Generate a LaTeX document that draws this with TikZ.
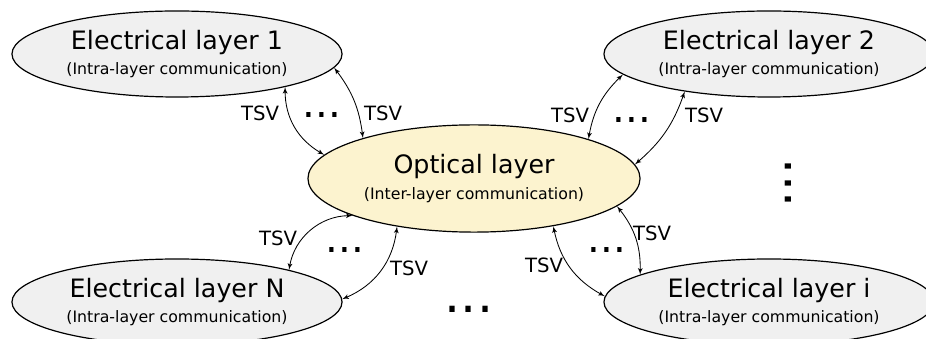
\documentclass[tikz,border=0pt]{standalone}
\usepackage{fontspec}
\setmainfont{DejaVu Sans}
\usepackage{tikz}
\usetikzlibrary{shapes,arrows}
\definecolor{layerGR}{RGB}{240,240,240}
\definecolor{layerYE}{RGB}{252,243,207}
\tikzstyle{layerEL} = [ellipse, draw, fill=layerGR, line width=0.85pt, inner sep=0pt, align=center, minimum width=8.25cm, minimum height=2.15cm]
\tikzstyle{layerOP} = [layerEL, fill=layerYE, minimum width=8.3cm, minimum height=2.68cm]
\tikzstyle{tsvlabel} = [font=\fontsize{14}{16}\selectfont, inner sep=0pt]
\tikzstyle{dotsSM} = [font=\fontsize{28.6}{30}\selectfont, inner sep=0pt]
\tikzstyle{dotsBG} = [font=\fontsize{36}{38}\selectfont, inner sep=0pt]
\tikzstyle{line} = [draw, line width=0.6pt, latex'-latex']
\newcommand{\layertext}[2]{{\fontsize{18}{20}\selectfont #1}\\[5pt]{\fontsize{11.2}{13}\selectfont #2}}

\begin{document}
\begin{tikzpicture}[x=0.025cm, y=-0.025cm]
  \useasboundingbox (0,0) rectangle (926,339);

    % nodes
    \node [layerEL] (elec1) at (177,54) {\layertext{Electrical layer 1}{(Intra-layer communication)}};
    \node [layerEL] (elec2) at (769,54) {\layertext{Electrical layer 2}{(Intra-layer communication)}};
    \node [layerOP] (optic) at (474,178.5) {\layertext{Optical layer}{(Inter-layer communication)}};
    \node [layerEL] (elecN) at (177,302) {\layertext{Electrical layer N}{(Intra-layer communication)}};
    \node [layerEL] (eleci) at (769,302) {\layertext{Electrical layer i}{(Intra-layer communication)}};

    % labels
    \node [tsvlabel] (tsv1a) at (260,113) {TSV};
    \node [tsvlabel] (tsv1b) at (383,113) {TSV};
    \node [tsvlabel] (tsv2a) at (570,115) {TSV};
    \node [tsvlabel] (tsv2b) at (704,115) {TSV};
    \node [tsvlabel] (tsvNa) at (278,238) {TSV};
    \node [tsvlabel] (tsvNb) at (409,268) {TSV};
    \node [tsvlabel] (tsvia) at (544,265) {TSV};
    \node [tsvlabel] (tsvib) at (652,233) {TSV};

    % dots
    \node [dotsSM] (dots1) at (322,115) {...};
    \node [dotsSM] (dots2) at (632,120) {...};
    \node [dotsSM] (dotsN) at (345,250) {...};
    \node [dotsSM] (dotsi) at (607,250) {...};
    \node [dotsBG] (dotsB) at (469,309) {...};
    \node [dotsBG, rotate=90] (dotsR) at (788,183) {...};

    % edges
    \path [line] (elec1.-17) to[bend right=30] (optic.171);
    \path [line] (elec1.-5) to[bend left=15] (optic.160);
    \path [line] (elec2.188) to[bend right=18] (optic.19);
    \path [line] (elec2.204) to[bend left=15] (optic.5);
    \path [line] (optic.197) to[bend right=40] (elecN.16);
    \path [line] (optic.212) to[bend left=30] (elecN.1);
    \path [line] (optic.-31) to[bend right=25] (eleci.178);
    \path [line] (optic.-11) to[bend left=20] (eleci.168);

  \end{tikzpicture}
\end{document}
